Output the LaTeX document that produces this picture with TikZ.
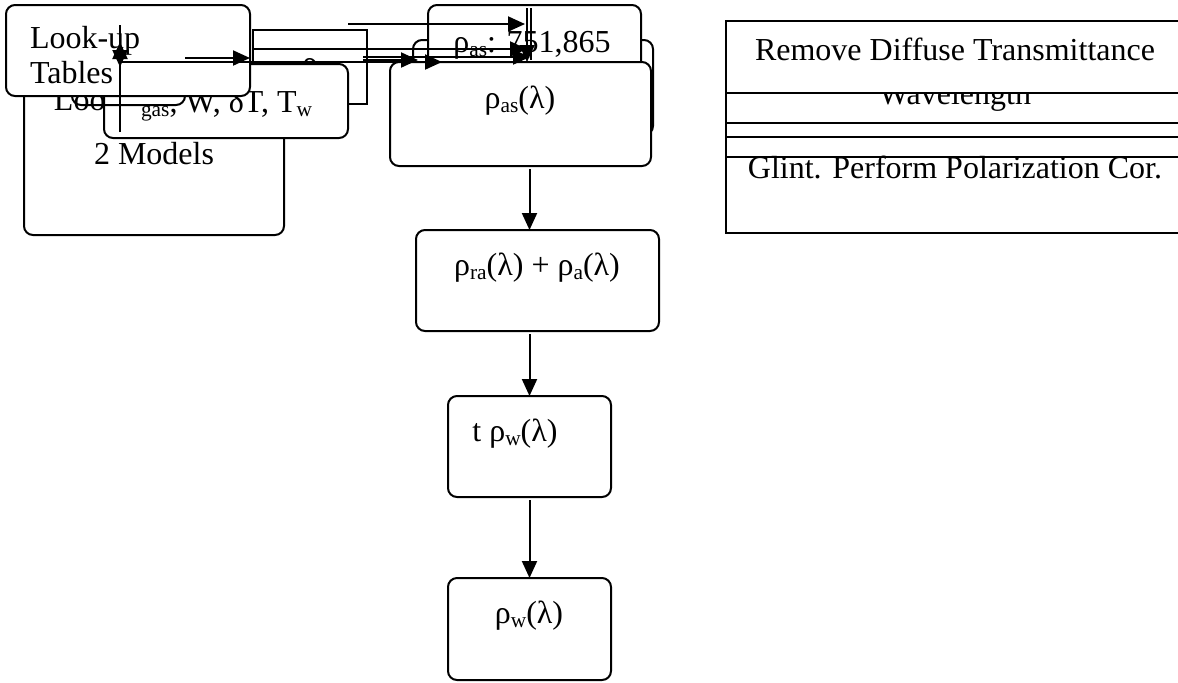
\documentclass[tikz,border=0pt]{standalone}
\usepackage{fontspec}
\setmainfont{Liberation Serif}
\usetikzlibrary{arrows.meta,fit}

% lowered, two-thirds size subscript
\newcommand{\lowsub}[1]{\raisebox{-0.15em}{\fontsize{10.7pt}{10.7pt}\selectfont #1}}

\begin{document}
\begin{tikzpicture}[x=0.5pt,y=-0.5pt,
  every node/.style={font=\fontsize{16pt}{18pt}\selectfont, inner sep=0pt, outer sep=0pt},
  rbox/.style={draw, line width=1pt, rounded corners=4.5pt, fill=white},
  obox/.style={draw, line width=1pt, rounded corners=4.5pt},
  sbox/.style={draw, line width=1pt, fill=white},
  pbox/.style={draw, line width=1pt},
  lbl/.style={anchor=base},
  lblw/.style={anchor=base west},
  arr/.style={line width=1pt, -{Triangle[length=8.5pt,width=7.5pt]}},
  ln/.style={line width=1pt}
]
\useasboundingbox (0,0) rectangle (1178,682);

% ---------- left cluster: look-up tables and inputs ----------
\node[rbox, fit={(24,72) (284,235)}] (models) {};
\node[lblw] (modelsA) at (54,110) {Look-up Tables};
\node[lbl] (modelsB) at (154,164) {2 Models};

\node[pbox, fit={(253,30) (367,104)}] (frame) {};
\node[lbl] (frameT) at (310,73) {ρ};

\node[rbox, fit={(104,64) (348,138)}] (gas) {};
\node[lblw] (gasT) at (141,112) {\lowsub{gas}, W, δT, T\lowsub{w}};

\node[obox, fit={(72,40) (185,105)}] (inner) {};

\node[rbox, fit={(6,5) (250,96)}] (lut) {};
\node[lblw] (lutA) at (30,48) {Look-up};
\node[lblw] (lutB) at (30,83) {Tables};

% ---------- aerosol reflectance stack ----------
\node[rbox, fit={(413,40) (653,135)}] (back) {};
\node[rbox, fit={(428,5) (641,75)}] (lut751) {};
\node[lbl] (lut751T) at (532,52) {ρ\lowsub{as}: 751,865};
\node[rbox, fit={(390,62) (651,166)}] (asl) {};
\node[lbl] (aslT) at (520,108) {ρ\lowsub{as}(λ)};

% ---------- main chain ----------
\node[rbox, fit={(416,230) (659,331)}] (ra) {};
\node[lbl] (raT) at (537,275) {ρ\lowsub{ra}(λ) + ρ\lowsub{a}(λ)};
\node[rbox, fit={(448,396) (611,497)}] (tw) {};
\node[lbl] (twT) at (515,441) {t ρ\lowsub{w}(λ)};
\node[rbox, fit={(448,578) (611,680)}] (w) {};
\node[lbl] (wT) at (529,623) {ρ\lowsub{w}(λ)};

\draw[arr] ([yshift=-1.5pt]asl.south -| tw.north) -- (ra.north -| tw.north);
\draw[arr] ([yshift=-1.5pt]ra.south -| tw.north) -- (tw.north);
\draw[arr] ([yshift=-1.5pt]tw.south) -- (w.north);

% ---------- correction steps ----------
\node[sbox, fit={(726,60) (1184,123)}] (wave) {};
\node[lbl] (waveT) at (955,104) {Wavelength};
\node[sbox, fit={(726,123) (1184,180)}] (midA) {};
\node[sbox, fit={(726,137) (1184,200)}] (midB) {};
\node[sbox, fit={(726,157) (1184,233)}] (glint) {};
\node[lbl] (glintT) at (955,178) {Glint. Perform Polarization Cor.};
\node[sbox, fit={(726,21) (1184,93)}] (diff) {};
\node[lbl] (diffT) at (955,60) {Remove Diffuse Transmittance};

% ---------- connectors across the top ----------
\coordinate (vA) at (120,25);
\coordinate (vB) at (120,67);
\coordinate (vC) at (120,132);
\coordinate (vD) at (120,42);
\draw[arr] (vA) -- (vB);
\draw[arr] (vC) -- (vD);

\coordinate (h1s) at (120,62);
\coordinate (h1e) at (442,62);
\draw[arr] (h1s) -- (h1e);
\coordinate (h2s) at (185,58);
\draw[arr] (h2s) -- (lut.east |- h2s);
\coordinate (h3s) at (363,60);
\coordinate (h3e) at (418,60);
\draw[arr] (h3s) -- (h3e);
\coordinate (h4s) at (348,24);
\coordinate (h4e) at (525,24);
\draw[arr] (h4s) -- (h4e);
\coordinate (h5s) at (253,49);
\coordinate (h5e) at (527,49);
\draw[arr] (h5s) -- (h5e);
\coordinate (h6s) at (363,57);
\coordinate (h6e) at (530,57);
\draw[arr] (h6s) -- (h6e);
\coordinate (v2s) at (527,8);
\coordinate (v2e) at (527,62);
\draw[arr] (v2s) -- (v2e);
\coordinate (v3s) at (531,8);
\coordinate (v3e) at (531,60);
\draw[ln] (v3s) -- (v3e);
\end{tikzpicture}
\end{document}
